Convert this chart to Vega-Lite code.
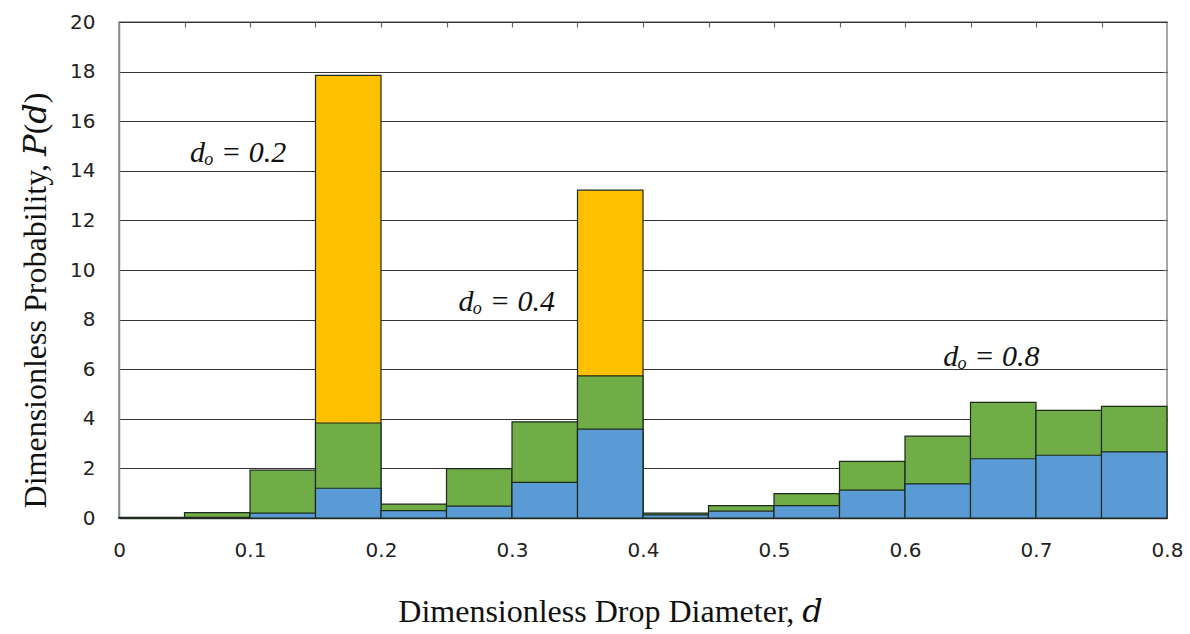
{
  "$schema": "https://vega.github.io/schema/vega-lite/v6.json",
  "autosize": {"type": "none"},
  "width": 1048,
  "height": 496,
  "padding": {"left": 119, "top": 22, "right": 23, "bottom": 116},
  "background": "white",
  "config": {
    "view": {"stroke": "#8a8a8a", "strokeWidth": 1.5},
    "axis": {"labelFont": "DejaVu Sans", "labelFontSize": 20, "labelColor": "#222", "titleFont": "Liberation Serif, DejaVu Serif", "titleFontSize": 32, "titleFontWeight": "normal", "titleColor": "#111"}
  },
  "resolve": {"axis": {"x": "independent", "y": "independent"}},
  "datasets": {
    "bars": [
      {"d0": 0.15, "d1": 0.2, "series": "do = 0.2", "P": 17.85},
      {"d0": 0.35, "d1": 0.4, "series": "do = 0.2", "P": 13.22},
      {"d0": 0.0, "d1": 0.05, "series": "do = 0.4", "P": 0.03},
      {"d0": 0.05, "d1": 0.1, "series": "do = 0.4", "P": 0.22},
      {"d0": 0.1, "d1": 0.15, "series": "do = 0.4", "P": 1.93},
      {"d0": 0.15, "d1": 0.2, "series": "do = 0.4", "P": 3.83},
      {"d0": 0.2, "d1": 0.25, "series": "do = 0.4", "P": 0.56},
      {"d0": 0.25, "d1": 0.3, "series": "do = 0.4", "P": 1.99},
      {"d0": 0.3, "d1": 0.35, "series": "do = 0.4", "P": 3.88},
      {"d0": 0.35, "d1": 0.4, "series": "do = 0.4", "P": 5.73},
      {"d0": 0.4, "d1": 0.45, "series": "do = 0.4", "P": 0.2},
      {"d0": 0.45, "d1": 0.5, "series": "do = 0.4", "P": 0.5},
      {"d0": 0.5, "d1": 0.55, "series": "do = 0.4", "P": 0.98},
      {"d0": 0.55, "d1": 0.6, "series": "do = 0.4", "P": 2.28},
      {"d0": 0.6, "d1": 0.65, "series": "do = 0.4", "P": 3.3},
      {"d0": 0.65, "d1": 0.7, "series": "do = 0.4", "P": 4.66},
      {"d0": 0.7, "d1": 0.75, "series": "do = 0.4", "P": 4.34},
      {"d0": 0.75, "d1": 0.8, "series": "do = 0.4", "P": 4.5},
      {"d0": 0.0, "d1": 0.05, "series": "do = 0.8", "P": 0.02},
      {"d0": 0.05, "d1": 0.1, "series": "do = 0.8", "P": 0.03},
      {"d0": 0.1, "d1": 0.15, "series": "do = 0.8", "P": 0.2},
      {"d0": 0.15, "d1": 0.2, "series": "do = 0.8", "P": 1.2},
      {"d0": 0.2, "d1": 0.25, "series": "do = 0.8", "P": 0.3},
      {"d0": 0.25, "d1": 0.3, "series": "do = 0.8", "P": 0.48},
      {"d0": 0.3, "d1": 0.35, "series": "do = 0.8", "P": 1.44},
      {"d0": 0.35, "d1": 0.4, "series": "do = 0.8", "P": 3.58},
      {"d0": 0.4, "d1": 0.45, "series": "do = 0.8", "P": 0.13},
      {"d0": 0.45, "d1": 0.5, "series": "do = 0.8", "P": 0.28},
      {"d0": 0.5, "d1": 0.55, "series": "do = 0.8", "P": 0.5},
      {"d0": 0.55, "d1": 0.6, "series": "do = 0.8", "P": 1.12},
      {"d0": 0.6, "d1": 0.65, "series": "do = 0.8", "P": 1.38},
      {"d0": 0.65, "d1": 0.7, "series": "do = 0.8", "P": 2.39},
      {"d0": 0.7, "d1": 0.75, "series": "do = 0.8", "P": 2.53},
      {"d0": 0.75, "d1": 0.8, "series": "do = 0.8", "P": 2.67}
    ],
    "labels": [
      {"d": 0.091, "P": 14.7, "label": "dₒ = 0.2"},
      {"d": 0.296, "P": 8.7, "label": "dₒ = 0.4"},
      {"d": 0.666, "P": 6.5, "label": "dₒ = 0.8"}
    ]
  },
  "layer": [
    {
      "data": {"name": "bars"},
      "mark": {"type": "bar", "stroke": "#1c2a1c", "strokeWidth": 1.2},
      "encoding": {
        "x": {"field": "d0", "type": "quantitative",
              "scale": {"domain": [0, 0.8], "nice": false},
              "axis": {"values": [0, 0.1, 0.2, 0.3, 0.4, 0.5, 0.6, 0.7, 0.8], "format": "~g", "ticks": false, "grid": false, "labelFlush": false, "labelPadding": 22, "domainColor": "#333", "domainWidth": 1.5,
                       "title": "Dimensionless Drop Diameter, 𝑑", "titlePadding": 36, "titleX": 491, "titleAlign": "center"}},
        "x2": {"field": "d1"},
        "y": {"field": "P", "type": "quantitative", "stack": null,
              "scale": {"domain": [0, 20], "nice": false},
              "axis": {"values": [0, 2, 4, 6, 8, 10, 12, 14, 16, 18, 20], "ticks": false, "grid": true, "gridColor": "#333", "gridWidth": 1, "gridOpacity": 1, "labelPadding": 24, "domainColor": "#8a8a8a", "domainWidth": 1.5,
                       "title": "Dimensionless Probability, 𝑃(𝑑)", "titleX": -84, "titleY": 278, "titleAlign": "center", "titleBaseline": "middle"}},
        "y2": {"datum": 0},
        "color": {"field": "series", "type": "nominal",
                  "scale": {"domain": ["do = 0.2", "do = 0.4", "do = 0.8"], "range": ["#FFC000", "#70AD47", "#5B9BD5"]},
                  "legend": null}
      }
    },
    {
      "data": {"name": "labels"},
      "mark": {"type": "text", "font": "Liberation Serif", "fontStyle": "italic", "fontSize": 30, "color": "#111", "align": "center", "baseline": "middle"},
      "encoding": {
        "x": {"field": "d", "type": "quantitative",
              "axis": {"orient": "top", "values": [0.05, 0.1, 0.15, 0.2, 0.25, 0.3, 0.35, 0.4, 0.45, 0.5, 0.55, 0.6, 0.65, 0.7, 0.75], "labels": false, "domain": false, "grid": false, "ticks": true, "tickSize": -5, "tickColor": "#666", "tickWidth": 1.2, "title": null}},
        "y": {"field": "P", "type": "quantitative",
              "axis": {"orient": "right", "values": [2, 4, 6, 8, 10, 12, 14, 16, 18], "labels": false, "domain": false, "grid": false, "ticks": true, "tickSize": -4, "tickColor": "#666", "tickWidth": 1.2, "title": null}},
        "text": {"field": "label"}
      }
    }
  ]
}
